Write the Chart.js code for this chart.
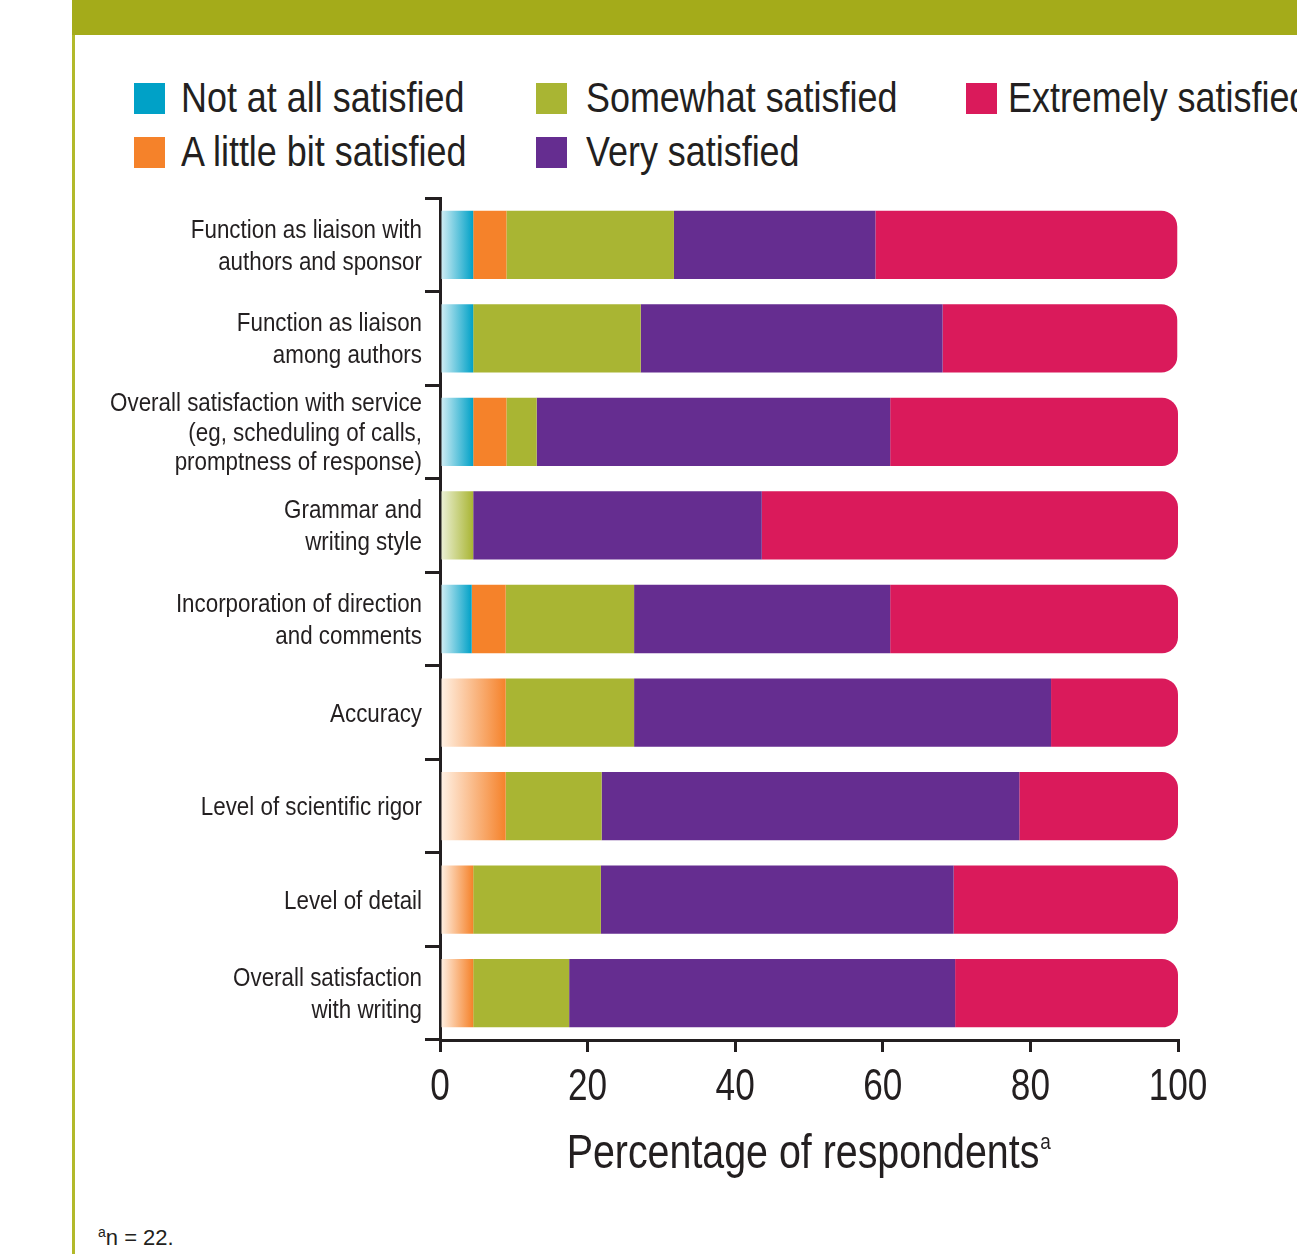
<!DOCTYPE html>
<html>
<head>
<meta charset="utf-8">
<script src="https://cdn.jsdelivr.net/npm/chart.js@4/dist/chart.umd.min.js"></script>
<style>
  html, body { margin: 0; padding: 0; background: #fff; }
  body { width: 1297px; height: 1254px; position: relative; overflow: hidden;
         font-family: "Liberation Sans", Arial, sans-serif; color: #231f20; }
  #band { position: absolute; left: 72px; top: 0; width: 1225px; height: 35px; background: #a4ab1a; }
  #rule { position: absolute; left: 72px; top: 35px; width: 3px; height: 1219px; background: #b2b92a; }
  .lg { position: absolute; white-space: nowrap; font-size: 42px; line-height: 42px; height: 42px; }
  .lg span.sw { position: absolute; left: 0; top: 6px; width: 31px; height: 31px; }
  .lg span.tx { position: absolute; top: 0; transform: scaleX(0.855); transform-origin: 0 0; }
  #foot { position: absolute; left: 98px; top: 1225px; font-size: 22px; white-space: nowrap; }
  #foot sup { font-size: 14px; vertical-align: 8px; line-height: 0; }
  #c { position: absolute; left: 0; top: 190px; }
</style>
</head>
<body>
<div id="band"></div>
<div id="rule"></div>
<div id="legend"></div>
<canvas id="c" width="1297" height="1010"></canvas>
<div id="foot"><sup>a</sup>n = 22.</div>
<script>
// categories (top to bottom)
var categories = [
  ["Function as liaison with", "authors and sponsor"],
  ["Function as liaison", "among authors"],
  ["Overall satisfaction with service", "(eg, scheduling of calls,", "promptness of response)"],
  ["Grammar and", "writing style"],
  ["Incorporation of direction", "and comments"],
  "Accuracy",
  "Level of scientific rigor",
  "Level of detail",
  ["Overall satisfaction", "with writing"]
];

// percentage of respondents
var notAtAll   = [4.5, 4.5, 4.5, 0,    4.3, 0,    0,    0,    0];
var littleBit  = [4.5, 0,   4.5, 0,    4.6, 8.9,  8.9,  4.5,  4.5];
var somewhat   = [22.7, 22.7, 4.1, 4.5, 17.4, 17.4, 13.0, 17.3, 13.0];
var very       = [27.3, 40.9, 47.9, 39.1, 34.7, 56.5, 56.6, 47.8, 52.3];
var extremely  = [40.9, 31.8, 39.0, 56.4, 39.0, 17.2, 21.5, 30.4, 30.2];

var seriesNames = ["Not at all satisfied", "A little bit satisfied", "Somewhat satisfied", "Very satisfied", "Extremely satisfied"];
var seriesColors = ["#00a1c7", "#f5822a", "#a9b533", "#652d90", "#da1a5b"];
var seriesPale = ["#d8f0f6", "#fff3e8", "#eef3dc", "#e6dcef", "#f9dde7"];
var seriesData = [notAtAll, littleBit, somewhat, very, extremely];

var xTicks = [0, 20, 40, 60, 80, 100];
var xTitle = "Percentage of respondents";

// legend, column-major: 2 rows
var legendSpots = [[134, 77], [134, 131], [536, 77], [536, 131], [966, 77]];
var legendHtml = "";
for (var i = 0; i < seriesNames.length; i++) {
  var p = legendSpots[i];
  legendHtml += '<div class="lg" style="left:' + p[0] + 'px;top:' + p[1] + 'px">' +
    '<span class="sw" style="background:' + seriesColors[i] + '"></span>' +
    '<span class="tx" style="left:' + (i == 2 || i == 3 ? 50 : (i == 4 ? 42 : 47)) + 'px">' + seriesNames[i] + '</span></div>';
}
document.getElementById("legend").innerHTML = legendHtml;

var ink = "#231f20";
var fontFam = '"Liberation Sans", Arial, sans-serif';

function barFill(ctx) {
  var d = ctx.datasetIndex;
  var col = seriesColors[d];
  if (ctx.type !== "data") return col;
  var chart = ctx.chart;
  var xs = chart.scales.x;
  if (!xs || !chart.chartArea) return col;
  for (var k = 0; k < d; k++) {
    if (seriesData[k][ctx.dataIndex] > 0) return col;
  }
  var x0 = xs.getPixelForValue(0);
  var x1 = xs.getPixelForValue(seriesData[d][ctx.dataIndex]);
  var g = chart.ctx.createLinearGradient(x0, 0, x1, 0);
  g.addColorStop(0, seriesPale[d]);
  g.addColorStop(1, col);
  return g;
}

var datasets = seriesData.map(function(vals, i) {
  return {
    label: seriesNames[i],
    data: vals,
    backgroundColor: barFill,
    borderWidth: 0,
    borderSkipped: false,
    borderRadius: i == seriesData.length - 1 ? { topLeft: 0, bottomLeft: 0, topRight: 16, bottomRight: 16 } : 0,
    barPercentage: 0.73,
    categoryPercentage: 1
  };
});

// condensed text: draw with a horizontal squeeze
function squeezed(c, txt, x, y, align, size, sx) {
  c.save();
  c.translate(x, y);
  c.scale(sx, 1);
  c.font = size + "px " + fontFam;
  c.textAlign = align;
  c.textBaseline = "alphabetic";
  c.fillText(txt, 0, 0);
  c.restore();
}

var labelsPlugin = {
  id: "labelsPlugin",
  afterDraw: function(chart) {
    var c = chart.ctx;
    var ys = chart.scales.y, xs = chart.scales.x;
    c.save();
    c.fillStyle = ink;
    // category labels
    categories.forEach(function(lab, i) {
      var lines = Array.isArray(lab) ? lab : [lab];
      var step = lines.length > 2 ? 29.5 : 32;
      var cy = ys.getPixelForTick(i);
      lines.forEach(function(t, j) {
        var ly = cy + (j - (lines.length - 1) / 2) * step + 9;
        squeezed(c, t, 422, ly, "right", 26, 0.86);
      });
    });
    // x tick labels
    xTicks.forEach(function(v) {
      squeezed(c, String(v), xs.getPixelForValue(v), 910, "center", 44, 0.8);
    });
    // x title with superscript
    c.font = "48px " + fontFam;
    var w = c.measureText(xTitle).width * 0.82;
    var mid = (chart.chartArea.left + chart.chartArea.right) / 2;
    var left = mid - (w + 12) / 2;
    squeezed(c, xTitle, left, 978, "left", 48, 0.82);
    squeezed(c, "a", left + w + 1, 959, "left", 22, 0.86);
    c.restore();
  }
};

new Chart(document.getElementById("c"), {
  type: "bar",
  data: { labels: categories, datasets: datasets },
  plugins: [labelsPlugin],
  options: {
    responsive: false,
    animation: false,
    indexAxis: "y",
    devicePixelRatio: 1,
    layout: { padding: { top: 8, right: 119, left: 0, bottom: 0 } },
    plugins: { legend: { display: false }, tooltip: { enabled: false } },
    scales: {
      x: {
        stacked: true,
        min: 0,
        max: 100,
        afterFit: function(s) { s.height = 160; },
        afterBuildTicks: function(s) { s.ticks = xTicks.map(function(v) { return { value: v }; }); },
        border: { color: ink, width: 3 },
        grid: { drawOnChartArea: false, drawTicks: true, tickLength: 12, color: ink, lineWidth: 3 },
        ticks: { display: false, autoSkip: false }
      },
      y: {
        stacked: true,
        afterFit: function(s) { s.width = 440; },
        border: { color: ink, width: 3 },
        grid: { drawOnChartArea: false, drawTicks: true, tickLength: 15, color: ink, lineWidth: 3, offset: true },
        ticks: { display: false, autoSkip: false }
      }
    }
  }
});
</script>
</body>
</html>
